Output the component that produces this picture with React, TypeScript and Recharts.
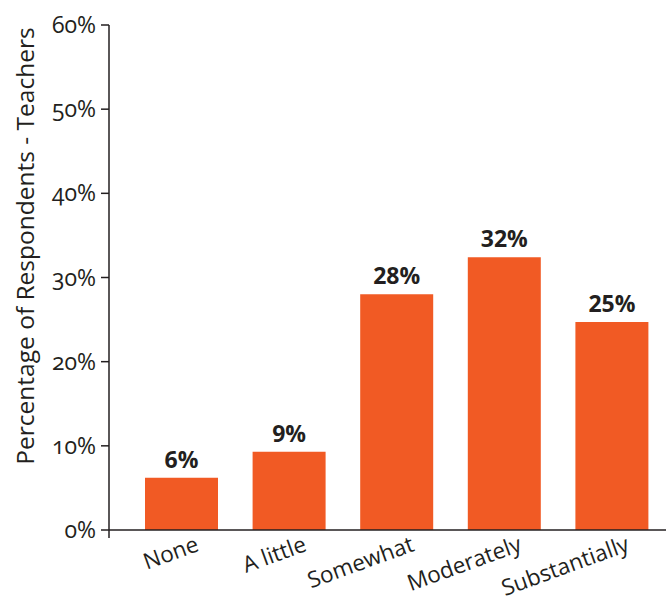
import { BarChart, Bar, XAxis, YAxis, LabelList } from 'recharts';

const categories = ['None', 'A little', 'Somewhat', 'Moderately', 'Substantially'];
const teacherShares = [6.2, 9.3, 28.0, 32.4, 24.7];
const yTicks = [0, 10, 20, 30, 40, 50, 60];

const chartData = categories.map((name, i) => ({ name, value: teacherShares[i] }));

const ink = '#231f20';
const barColor = '#f15a24';
const font = '"Open Sans", "Noto Sans", sans-serif';

function CategoryTick(props: any) {
  const { x, y, payload } = props;
  return (
    <g transform={`translate(${x + 15},${y + 3})`}>
      <text
        x={0}
        y={0}
        dy={10}
        textAnchor="end"
        fill={ink}
        fontSize={22.5}
        fontFamily={font}
        transform="rotate(-20)"
      >
        {payload.value}
      </text>
    </g>
  );
}

function PercentTick(props: any) {
  const { x, y, payload } = props;
  return (
    <g>
      <text
        x={x}
        y={y}
        dy={8}
        textAnchor="end"
        fill={ink}
        fontSize={23}
        fontFamily={font}
        style={{ fontVariantNumeric: 'oldstyle-nums' }}
      >
        {payload.value}%
      </text>
      {/* the y axis runs a little below the baseline */}
      {payload.value === 0 && <line x1={x + 13} x2={x + 13} y1={y} y2={y + 8} stroke={ink} strokeWidth={1.5} />}
    </g>
  );
}

export default function App() {
  return (
    <div style={{ position: 'absolute', left: 0, top: 0, background: '#fff' }}>
      <BarChart
        width={668}
        height={603}
        data={chartData}
        margin={{ top: 25, right: 2, bottom: 0, left: 0 }}
        barCategoryGap="16%"
      >
        <XAxis
          dataKey="name"
          height={73}
          padding={{ left: 19, right: 0 }}
          tickLine={false}
          axisLine={{ stroke: ink, strokeWidth: 1.5 }}
          interval={0}
          tick={<CategoryTick />}
        />
        <YAxis
          width={109}
          domain={[0, 60]}
          ticks={yTicks}
          interval={0}
          tickSize={8}
          tickMargin={5}
          tickLine={{ stroke: ink, strokeWidth: 1.5 }}
          axisLine={{ stroke: ink, strokeWidth: 1.5 }}
          tick={<PercentTick />}
          label={{
            content: () => (
              <text
                x={24}
                y={246}
                transform="rotate(-90, 24, 246)"
                textAnchor="middle"
                dominantBaseline="central"
                fill={ink}
                fontSize={24.5}
                fontFamily={font}
              >
                Percentage of Respondents - Teachers
              </text>
            ),
          }}
        />
        <Bar dataKey="value" fill={barColor} isAnimationActive={false} barSize={73}>
          <LabelList
            dataKey="value"
            position="top"
            offset={10}
            formatter={(v: any) => `${Math.round(v)}%`}
            fill={ink}
            fontSize={23}
            fontWeight="bold"
            fontFamily={font}
          />
        </Bar>
      </BarChart>
    </div>
  );
}
